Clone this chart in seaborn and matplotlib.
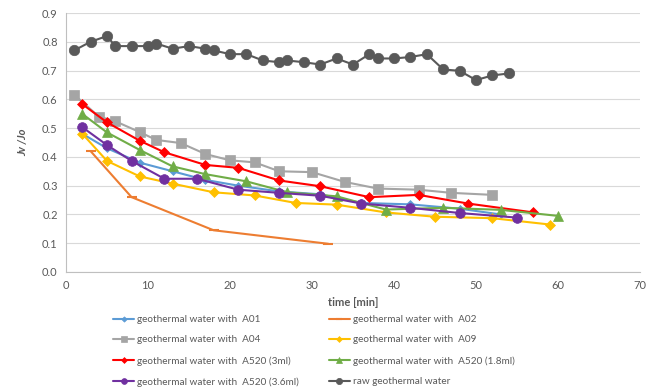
import numpy as np
import pandas as pd
import seaborn as sns
import matplotlib.pyplot as plt
from matplotlib.ticker import MultipleLocator

# donnees
t_a01 = [2, 5, 9, 13, 17, 21, 26, 31, 36, 42, 48, 53]
j_a01 = [0.48, 0.43, 0.38, 0.35, 0.32, 0.30, 0.28, 0.27, 0.24, 0.235, 0.22, 0.20]

t_a02 = [3, 8, 18, 32]
j_a02 = [0.42, 0.26, 0.145, 0.098]

t_a04 = [1, 4, 6, 9, 11, 14, 17, 20, 23, 26, 30, 34, 38, 43, 47, 52]
j_a04 = [0.616, 0.54, 0.524, 0.486, 0.459, 0.448, 0.41, 0.388, 0.381, 0.35, 0.347,
         0.313, 0.29, 0.286, 0.275, 0.268]

t_a09 = [2, 5, 9, 13, 18, 23, 28, 33, 39, 45, 52, 59]
j_a09 = [0.48, 0.386, 0.332, 0.307, 0.277, 0.266, 0.24, 0.234, 0.207, 0.192, 0.187, 0.165]

t_a520_3 = [2, 5, 9, 12, 17, 21, 26, 31, 37, 43, 49, 57]
j_a520_3 = [0.583, 0.52, 0.456, 0.416, 0.372, 0.362, 0.318, 0.298, 0.26, 0.268, 0.238, 0.207]

t_a520_18 = [2, 5, 9, 13, 17, 22, 27, 33, 39, 46, 53, 60]
j_a520_18 = [0.549, 0.485, 0.424, 0.367, 0.34, 0.315, 0.277, 0.263, 0.217, 0.223, 0.216, 0.195]

t_a520_36 = [2, 5, 8, 12, 16, 21, 26, 31, 36, 42, 48, 55]
j_a520_36 = [0.503, 0.441, 0.386, 0.324, 0.324, 0.286, 0.275, 0.265, 0.238, 0.223, 0.205, 0.189]

t_raw = [1, 3, 5, 6, 8, 10, 11, 13, 15, 17, 18, 20, 22, 24, 26, 27, 29, 31, 33, 35,
         37, 38, 40, 42, 44, 46, 48, 50, 52, 54]
j_raw = [0.77, 0.80, 0.82, 0.785, 0.785, 0.785, 0.794, 0.776, 0.785, 0.776, 0.77,
         0.757, 0.757, 0.735, 0.729, 0.735, 0.729, 0.721, 0.742, 0.721, 0.757, 0.742,
         0.742, 0.747, 0.757, 0.704, 0.699, 0.667, 0.683, 0.69]

series = [
    ('geothermal water with  A01', t_a01, j_a01, '#5B9BD5', 'D', 4.5),
    ('geothermal water with  A02', t_a02, j_a02, '#ED7D31', '_', 7),
    ('geothermal water with  A04', t_a04, j_a04, '#A5A5A5', 's', 6.5),
    ('geothermal water with  A09', t_a09, j_a09, '#FFC000', 'D', 5),
    ('geothermal water with  A520 (3ml)', t_a520_3, j_a520_3, '#FF0000', 'D', 5),
    ('geothermal water with  A520 (1.8ml)', t_a520_18, j_a520_18, '#70AD47', '^', 6.5),
    ('geothermal water with  A520 (3.6ml)', t_a520_36, j_a520_36, '#7030A0', 'o', 7),
    ('raw geothermal water', t_raw, j_raw, '#595959', 'o', 7.5),
]

sns.set_style('white')
plt.rcParams['font.family'] = ['Lato', 'DejaVu Sans']
txt = '#595959'

fig = plt.figure(figsize=(6.48, 3.88), dpi=100)
ax = fig.add_axes([66/648, 1 - 272/388, 574/648, 259/388])

for nom, t, j, col, mk, ms in series:
    df = pd.DataFrame({'t': t, 'j': j})
    sns.lineplot(data=df, x='t', y='j', ax=ax, color=col, marker=mk, markersize=ms,
                 markeredgecolor=col, markeredgewidth=1.5 if mk == '_' else 0.5,
                 linewidth=1.5, label=nom, estimator=None, sort=False)

ax.set_xlim(0, 70)
ax.set_ylim(0, 0.9)
ax.xaxis.set_major_locator(MultipleLocator(10))
ax.xaxis.set_minor_locator(MultipleLocator(2))
ax.yaxis.set_major_locator(MultipleLocator(0.1))
ax.yaxis.set_minor_locator(MultipleLocator(0.02))
ax.yaxis.set_major_formatter(plt.FuncFormatter(lambda v, p: f'{v:.1f}'))
ax.grid(axis='y', color='#D9D9D9', linewidth=0.8)
ax.set_axisbelow(True)
for s in ['top', 'right']:
    ax.spines[s].set_visible(False)
for s in ['left', 'bottom']:
    ax.spines[s].set_color('#BFBFBF')
    ax.spines[s].set_linewidth(0.8)
ax.tick_params(which='major', length=0, labelsize=8, labelcolor=txt, pad=6)
ax.tick_params(which='minor', direction='in', length=3, color='#BFBFBF')

ax.set_xlabel('time [min]', fontsize=8, fontweight='bold', color=txt, labelpad=4)
ax.set_ylabel('Jv /Jo', fontsize=8, fontweight='bold', style='italic', color=txt, labelpad=10)

# ordre ligne par ligne comme dans la legende d'origine
h, l = ax.get_legend_handles_labels()
ordre = [0, 2, 4, 6, 1, 3, 5, 7]
ax.get_legend().remove()
fig.legend([h[i] for i in ordre], [l[i] for i in ordre], ncol=2, loc='upper left',
           bbox_to_anchor=(109/648, 1 - 311/388), frameon=False, fontsize=7.2,
           labelcolor=txt, handlelength=2.1, handletextpad=0.3, columnspacing=3.0,
           labelspacing=1.15, borderaxespad=0, markerscale=0.6)

fig.savefig('out.png', dpi=100)
